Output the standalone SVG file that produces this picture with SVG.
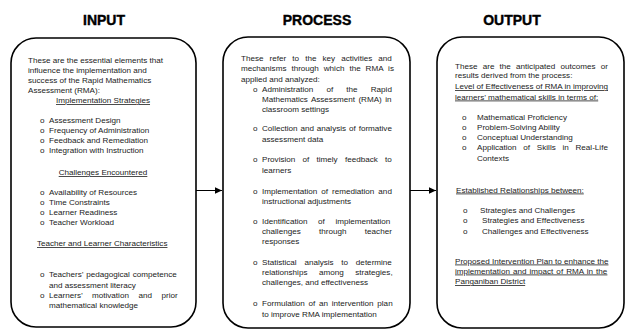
<svg xmlns="http://www.w3.org/2000/svg" width="631" height="329" viewBox="0 0 631 329">
<style>
.box{fill:#fff;stroke:#000;stroke-width:1.6}
.title{font-family:"Liberation Sans",Arial,sans-serif;font-weight:900;font-size:14px;fill:#000;stroke:#000;stroke-width:0.4;text-anchor:middle}
.t{font-family:"Liberation Sans",Arial,sans-serif;font-size:8.1px;fill:#222}
.u{text-decoration:underline}
.c{text-anchor:middle}
.conn{stroke:#000;stroke-width:1;fill:none}
</style>
<defs>
<marker id="ah" markerWidth="8" markerHeight="8" refX="7" refY="4" orient="auto" markerUnits="userSpaceOnUse">
<path d="M0,0.8 L7,4 L0,7.2 Z" fill="#000"/>
</marker>
</defs>
<rect width="631" height="329" fill="#fff"/>
<text class="title" x="104" y="25">INPUT</text>
<text class="title" x="317" y="25">PROCESS</text>
<text class="title" x="512" y="25">OUTPUT</text>

<g id="input">
<rect class="box" x="11" y="38" width="185" height="289" rx="25" ry="25"/>
<text class="t" x="28" y="63">These are the essential elements that</text>
<text class="t" x="28" y="73">influence the implementation and</text>
<text class="t" x="28" y="83">success of the Rapid Mathematics</text>
<text class="t" x="28" y="93">Assessment (RMA):</text>
<text class="t u c" x="103" y="103">Implementation Strategies</text>
<text class="t" x="40" y="123">o</text><text class="t" x="49" y="123">Assessment Design</text>
<text class="t" x="40" y="133">o</text><text class="t" x="49" y="133">Frequency of Administration</text>
<text class="t" x="40" y="143">o</text><text class="t" x="49" y="143">Feedback and Remediation</text>
<text class="t" x="40" y="153">o</text><text class="t" x="49" y="153">Integration with Instruction</text>
<text class="t u c" x="103" y="175">Challenges Encountered</text>
<text class="t" x="40" y="195">o</text><text class="t" x="49" y="195">Availability of Resources</text>
<text class="t" x="40" y="205">o</text><text class="t" x="49" y="205">Time Constraints</text>
<text class="t" x="40" y="215">o</text><text class="t" x="49" y="215">Learner Readiness</text>
<text class="t" x="40" y="225">o</text><text class="t" x="49" y="225">Teacher Workload</text>
<text class="t u" x="37" y="246">Teacher and Learner Characteristics</text>
<text class="t" x="40" y="277">o</text><text class="t" x="49" y="277" word-spacing="0.6">Teachers’ pedagogical competence</text>
<text class="t" x="49" y="288">and assessment literacy</text>
<text class="t" x="40" y="298">o</text><text class="t" x="49" y="298" word-spacing="7.3">Learners’ motivation and prior</text>
<text class="t" x="49" y="308">mathematical knowledge</text>
</g>

<g id="process">
<rect class="box" x="223" y="37" width="187" height="291" rx="25" ry="25"/>
<text class="t" x="241" y="61" word-spacing="3.85">These refer to the key activities and</text>
<text class="t" x="241" y="71" word-spacing="2.7">mechanisms through which the RMA is</text>
<text class="t" x="241" y="81.5">applied and analyzed:</text>
<text class="t" x="253" y="92">o</text><text class="t" x="262" y="92" word-spacing="10.9">Administration of the Rapid</text>
<text class="t" x="262" y="101.5" word-spacing="1.2">Mathematics Assessment (RMA) in</text>
<text class="t" x="262" y="111.5">classroom settings</text>
<text class="t" x="253" y="131">o</text><text class="t" x="262" y="131" word-spacing="0.65">Collection and analysis of formative</text>
<text class="t" x="262" y="142">assessment data</text>
<text class="t" x="253" y="162">o</text><text class="t" x="262" y="162" word-spacing="5">Provision of timely feedback to</text>
<text class="t" x="262" y="172.5">learners</text>
<text class="t" x="253" y="194">o</text><text class="t" x="262" y="194" word-spacing="1.75">Implementation of remediation and</text>
<text class="t" x="262" y="204">instructional adjustments</text>
<text class="t" x="253" y="224">o</text><text class="t" x="262" y="224" word-spacing="8.35">Identification of implementation</text>
<text class="t" x="262" y="234" word-spacing="16.1">challenges through teacher</text>
<text class="t" x="262" y="244">responses</text>
<text class="t" x="253" y="265">o</text><text class="t" x="262" y="265" word-spacing="5.5">Statistical analysis to determine</text>
<text class="t" x="262" y="275" word-spacing="9.3">relationships among strategies,</text>
<text class="t" x="262" y="285">challenges, and effectiveness</text>
<text class="t" x="253" y="306">o</text><text class="t" x="262" y="306" word-spacing="1.5">Formulation of an intervention plan</text>
<text class="t" x="262" y="316.5">to improve RMA implementation</text>
</g>

<g id="output">
<rect class="box" x="437" y="37" width="187" height="291" rx="25" ry="25"/>
<text class="t" x="455" y="68.5" word-spacing="2.95">These are the anticipated outcomes or</text>
<text class="t" x="455" y="78">results derived from the process:</text>
<text class="t u" x="455" y="89" textLength="153" lengthAdjust="spacingAndGlyphs">Level of Effectiveness of RMA in improving</text>
<text class="t u" x="455" y="99.5">learners’ mathematical skills in terms of:</text>
<text class="t" x="462" y="120">o</text><text class="t" x="477" y="120">Mathematical Proficiency</text>
<text class="t" x="462" y="130">o</text><text class="t" x="477" y="130">Problem-Solving Ability</text>
<text class="t" x="462" y="140">o</text><text class="t" x="477" y="140">Conceptual Understanding</text>
<text class="t" x="462" y="150">o</text><text class="t" x="477" y="150" word-spacing="4.5">Application of Skills in Real-Life</text>
<text class="t" x="477" y="160.5">Contexts</text>
<text class="t u" x="456" y="192.5">Established Relationships between:</text>
<text class="t" x="463" y="213">o</text><text class="t" x="480" y="213">Strategies and Challenges</text>
<text class="t" x="463" y="223">o</text><text class="t" x="482" y="223">Strategies and Effectiveness</text>
<text class="t" x="463" y="233.5">o</text><text class="t" x="482" y="233.5">Challenges and Effectiveness</text>
<text class="t u" x="455" y="263.5">Proposed Intervention Plan to enhance the</text>
<text class="t u" x="455" y="273.5" word-spacing="0.8">implementation and impact of RMA in the</text>
<text class="t u" x="455" y="284">Panganiban District</text>
</g>

<g id="connectors">
<line class="conn" x1="196" y1="190.5" x2="222" y2="190.5" marker-end="url(#ah)"/>
<line class="conn" x1="410" y1="190.5" x2="436" y2="190.5" marker-end="url(#ah)"/>
</g>
</svg>
